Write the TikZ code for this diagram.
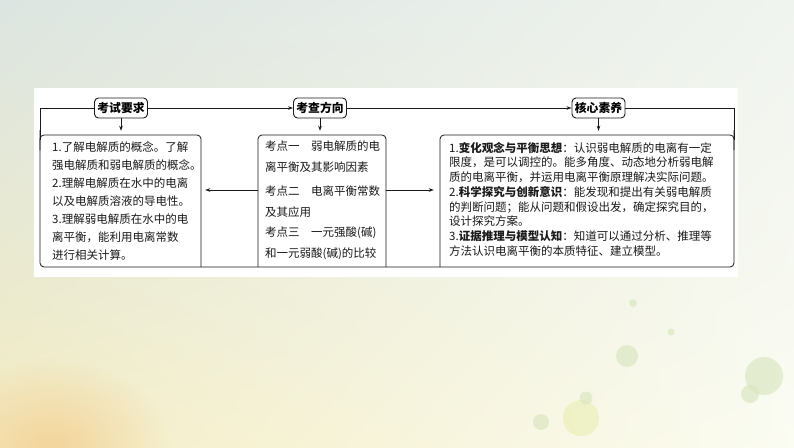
\documentclass[tikz,border=0pt]{standalone}
\usepackage{fontspec}
\setmainfont{Noto Sans CJK SC}
\usetikzlibrary{arrows.meta,fadings,shadings}
\tikzfading[name=blobfade, inner color=transparent!0, outer color=transparent!100]
\definecolor{bgUL}{HTML}{DCE5E1}
\definecolor{bgUR}{HTML}{F0F4EF}
\definecolor{bgLL}{HTML}{F4EDC4}
\definecolor{bgLR}{HTML}{FBFCF2}
\definecolor{blob}{HTML}{F3D49A}
\definecolor{dotG}{HTML}{D9E6C0}
\definecolor{dotY}{HTML}{EDF0BE}
\definecolor{ink}{HTML}{1A1A1A}
\begin{document}
\begin{tikzpicture}[x=1pt,y=-1pt,
  line/.style={draw=ink, line width=0.8pt},
  arr/.style={line, -{Stealth[length=5pt,width=3.5pt]}},
  head/.style={draw=ink, line width=0.9pt, rounded corners=4pt, minimum width=53pt,
    minimum height=20pt, inner sep=0pt, fill=white,
    font=\fontsize{11.8}{12}\selectfont\bfseries},
  region/.style={draw=none, inner sep=0pt, minimum height=132pt},
  txt/.style={anchor=north west, inner sep=0pt, align=left, text=ink}]
\useasboundingbox (0,0) rectangle (794,447);
% background
\shade[upper left=bgUL, upper right=bgUR, lower left=bgLL, lower right=bgLR] (0,0) rectangle (794,447);
\fill[blob, path fading=blobfade] (50,447) ellipse (120pt and 90pt);
\fill[dotG, opacity=0.65] (633,303) circle (4pt);
\fill[dotG, opacity=0.65] (671,332) circle (3.5pt);
\fill[dotG, opacity=0.65] (627,356) circle (11pt);
\fill[dotG, opacity=0.65] (764,376) circle (19pt);
\fill[dotG, opacity=0.65] (750,394) circle (9pt);
\fill[dotY, opacity=0.8] (581,418) circle (18pt);
\fill[dotG, opacity=0.65] (586,398) circle (6.5pt);
\fill[dotG, opacity=0.65] (541,422) circle (8pt);
% panel
\fill[white] (34,88) rectangle (738,277);
% headers
\node[head] (h1) at (121,108) {考试要求};
\node[head] (h2) at (320,108) {考查方向};
\node[head] (h3) at (598.5,108) {核心素养};
% regions
\node[region, minimum width=161pt] (L) at (120.5,201) {};
\node[region, minimum width=128pt] (M) at (322,201) {};
\node[region, minimum width=294pt] (R) at (587,201) {};
% frame
\draw[line] (h1.west) -- (40,108) -- (40,140);
\draw[line, rounded corners=4pt] (40,130) -- (40,267) -- (734,267) -- (734,130);
\draw[line] (734,140) -- (734,108) -- (h3.east);
\draw[line, rounded corners=4pt] (40,150) -- (40,135) -- (201,135) -- (201,267);
\draw[line, rounded corners=4pt] (258,267) -- (258,135) -- (386,135) -- (386,267);
\draw[line, rounded corners=4pt] (440,267) -- (440,135) -- (734,135) -- (734,150);
% arrows
\draw[arr] (h1) -- (h2);
\draw[arr] (h2) -- (h3);
\draw[arr, shorten >=4pt] (h1.south) -- (h1.south |- L.north);
\draw[arr, shorten >=4pt] (h2.south) -- (h2.south |- M.north);
\draw[arr, shorten >=4pt] (h3.south) -- (h3.south |- R.north);
\draw[arr, shorten >=4pt] ([yshift=11pt]M.west) -- ([yshift=11pt]L.east);
\draw[arr, shorten >=6pt] ([yshift=11pt]M.east) -- ([yshift=11pt]R.west);
% texts
\node[txt, font=\fontsize{11.5}{18}\selectfont] (Lt) at (52,141)
  {1.了解电解质的概念。了解\\强电解质和弱电解质的概念。\\2.理解电解质在水中的电离\\以及电解质溶液的导电性。\\3.理解弱电解质在水中的电\\离平衡，能利用电离常数\\进行相关计算。};
\node[txt, font=\fontsize{11.5}{21}\selectfont] (M1) at (265,141)
  {考点一\quad 弱电解质的电\\离平衡及其影响因素};
\node[txt, font=\fontsize{11.5}{21}\selectfont] (M2) at (265,186)
  {考点二\quad 电离平衡常数\\及其应用};
\node[txt, font=\fontsize{11.5}{21}\selectfont] (M3) at (265,227)
  {考点三\quad 一元强酸(碱)\\和一元弱酸(碱)的比较};
\node[txt, font=\fontsize{11.5}{14.7}\selectfont] (Rt) at (449,142)
  {1.\textbf{变化观念与平衡思想}：认识弱电解质的电离有一定\\
   限度，是可以调控的。能多角度、动态地分析弱电解\\
   质的电离平衡，并运用电离平衡原理解决实际问题。\\
   2.\textbf{科学探究与创新意识}：能发现和提出有关弱电解质\\
   的判断问题；能从问题和假设出发，确定探究目的，\\
   设计探究方案。\\
   3.\textbf{证据推理与模型认知}：知道可以通过分析、推理等\\
   方法认识电离平衡的本质特征、建立模型。};
\end{tikzpicture}
\end{document}
